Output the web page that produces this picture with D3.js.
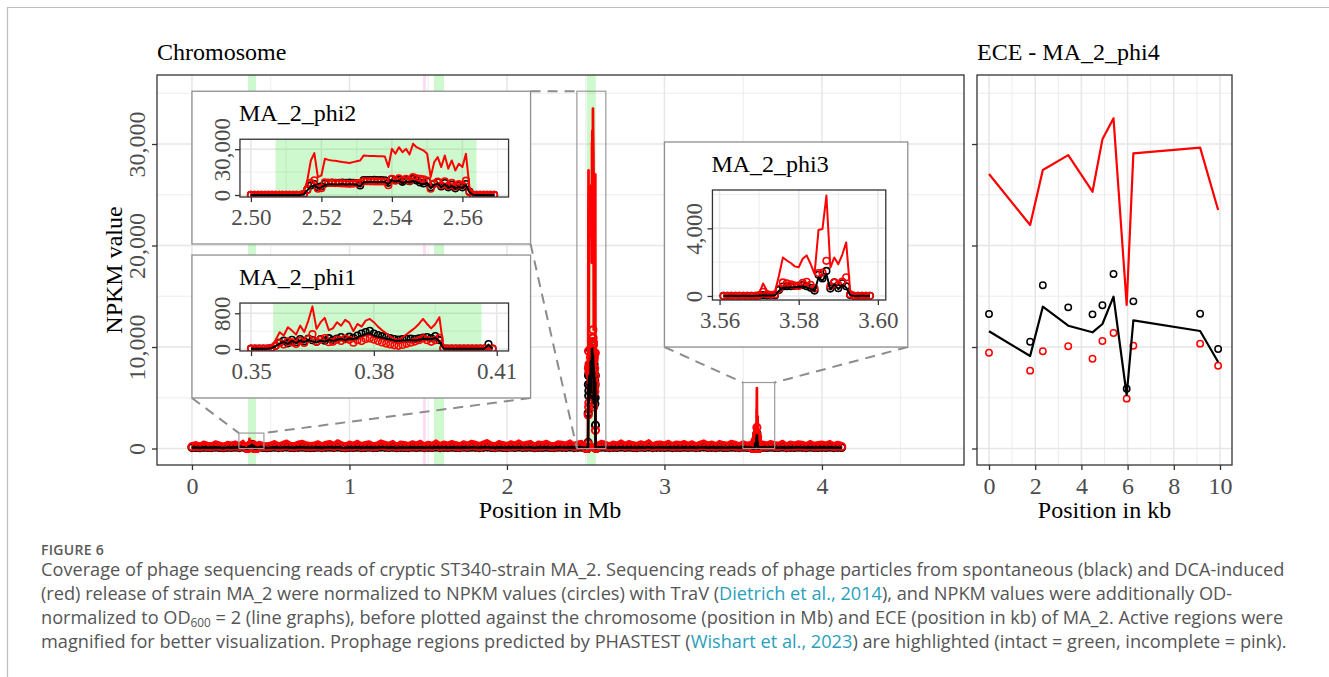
<!DOCTYPE html>
<html>
<head>
<meta charset="utf-8">
<script src="https://cdn.jsdelivr.net/npm/d3@7/dist/d3.min.js"></script>
<style>
  body { margin: 0; background: #fff; }
</style>
</head>
<body>
<svg id="fig" width="1329" height="677"></svg>
<script>
/*Chromosome backbone: 25 kb bins starting at 0 Mb, NPKM values are close to zero*/
var baseStart = 0, baseBin = 0.025;
var baseBlackNpkm = [90,110,85,120,100,95,130,105,80,115, 100,125,90,140,110,95,150,120,100,85,
    105,130,95,115,140,100,90,120,135,110, 95,105,125,90,115,130,100,145,110,85,
    120,100,135,95,110,125,90,105,140,115, 100,130,85,120,110,95,125,105,135,90,
    115,100,140,95,120,105,130,110,90,125, 100,135,115,95,120,145,105,90,130,110,
    95,125,105,140,100,115,130,85,120,110, 135,100,90,125,115,105,140,95,120,130,
    110,95,125,100,135,115,90,120,105,140, 100,130,110,95,125,105,145,90,115,120,
    105,135,95,120,110,130,100,125,90,115, 140,105,120,95,130,110,100,135,115,90,
    125,100,115,140,95,120,105,130,110,100, 135,90,120,105,125,115,95,130,100,110,
    120,105,130,95,115,100];
var baseRedNpkm = [180,210,160,230,190,170,240,200,150,220, 195,235,170,260,210,180,280,225,190,165,
    200,245,175,215,265,190,170,230,255,205, 180,200,240,170,220,250,190,275,210,160,
    230,190,260,180,210,240,170,200,270,220, 190,250,160,230,210,180,240,200,260,170,
    220,190,270,180,230,200,250,210,170,240, 190,260,220,180,230,280,200,170,250,210,
    180,240,200,270,190,220,250,160,230,210, 260,190,170,240,220,200,270,180,230,250,
    210,180,240,190,260,220,170,230,200,270, 190,250,210,180,240,200,280,170,220,230,
    200,260,180,230,210,250,190,240,170,220, 270,200,230,180,250,210,190,260,220,170,
    240,190,220,270,180,230,200,250,210,190, 260,170,230,200,240,220,180,250,190,210,
    230,200,250,180,220,190];
var baseBlackOd = [80,95,75,105,85,85,110,90,70,100, 85,110,80,120,95,85,130,105,85,75,
    90,115,85,100,120,85,80,105,115,95, 85,90,110,80,100,115,85,125,95,75,
    105,85,115,85,95,110,80,90,120,100, 85,115,75,105,95,85,110,90,115,80,
    100,85,120,85,105,90,115,95,80,110, 85,115,100,85,105,125,90,80,115,95,
    85,110,90,120,85,100,115,75,105,95, 115,85,80,110,100,90,120,85,105,115,
    95,85,110,85,115,100,80,105,90,120, 85,115,95,85,110,90,125,80,100,105,
    90,115,85,105,95,115,85,110,80,100, 120,90,105,85,115,95,85,115,100,80,
    110,85,100,120,85,105,90,115,95,85, 115,80,105,90,110,100,85,115,85,95,
    105,90,115,85,100,85];
var baseRedOd = [510,600,460,660,540,490,690,570,430,630, 560,670,490,740,600,510,800,640,540,470,
    570,700,500,610,760,540,490,660,730,590, 510,570,690,490,630,720,540,790,600,460,
    660,540,740,510,600,690,490,570,770,630, 540,720,460,660,600,510,690,570,740,490,
    630,540,770,510,660,570,720,600,490,690, 540,740,630,510,660,800,570,490,720,600,
    510,690,570,770,540,630,720,460,660,600, 740,540,490,690,630,570,770,510,660,720,
    600,510,690,540,740,630,490,660,570,770, 540,720,600,510,690,570,800,490,630,660,
    570,740,510,660,600,720,540,690,490,630, 770,570,660,510,720,600,540,740,630,490,
    690,540,630,770,510,660,570,720,600,540, 740,490,660,570,690,630,510,720,540,600,
    660,570,720,510,630,540];

/*Active regions: 1 kb bins*/
var regionBin = 0.001;
var phi1Start = 0.350;
var phi1RedOd = [15,10,20,12,18,60, 200,374,300,486,411,320,523,380,636,950,
    449,600,696,420,460,598,520,651,590,400, 560,500,636,673,600,500,420,350,280,230,
    202,260,330,400,471,560,673,560,460,560, 711,40, 12,10,15,10,12,14,10,12,16,12,10,12];
var phi1BlackOd = [5,4,6,5,4,20, 60,120,160,110,180,130,190,150,200,170,
    140,190,160,210,180,200,230,190,240,220, 260,300,330,352,300,270,250,230,210,190,
    185,190,195,200,190,205,220,230,215,250, 170,10, 5,4,6,5,4,6,5,5,6,5,95,4];
var phi1RedNpkm = [6,5,7,5,6,25, 70,130,100,170,145,110,180,135,220,330,
    160,210,245,150,160,210,180,230,205,140, 195,175,220,235,210,175,145,120,100,80,
    70,90,115,140,165,195,235,195,160,195, 250,15, 6,5,7,5,6,5,7,6,5,6,8,5];
var phi1BlackNpkm = [6,5,7,6,5,25, 70,140,185,125,205,150,220,170,230,195,
    160,220,185,240,205,230,265,220,275,250, 300,345,380,405,345,310,285,265,240,220,
    210,220,225,230,220,235,255,265,245,290, 195,12, 6,5,7,6,5,7,6,5,6,5,110,5];

var phi2Start = 2.500;
var phi2RedOd = [120,150,100,180,130,110,160,140,120,170,130,150,110,190,300,
    1500,9600,22600,27400,11700,12800,23700,23000,22600,22400,
    22000,21600,21300,20900,21500,22100,22600,25900,25700,25600,
    25500,25400,25300,25200,18300,30200,27000,31300,28000,30200,
    26500,33500,31300,30200,29100,27000,11700,21500,24800,18300,
    25900,17200,22600,16100,20400,18300,27000,5200,300,
    150,120,180,110,140,100];
var phi2BlackOd = [40,60,30,50,70,40,50,60,30,50,40,60,50,40,80,
    500,3000,5500,6300,4500,5000,6500,7000,7100,6900,
    7000,7200,6900,7100,7000,6800,5500,8500,8400,8600,
    8500,8400,8600,8500,7000,9800,8800,9500,7600,9000,
    8200,9200,8600,7400,7000,8000,4500,6500,7500,5000,
    7000,4500,6000,4000,5500,4500,6500,2000,100,
    50,40,60,30,50,40];
var phi2RedNpkm = [50,60,40,70,50,40,60,50,40,60,50,70,40,60,110,
    500,3300,7900,9600,4100,4500,8300,8000,7900,7800,
    7700,7550,7450,7300,7500,7700,7900,9000,9000,8950,
    8900,8900,8850,8800,6400,10500,9400,10900,9800,10500,
    9300,11700,10900,10500,10200,9400,4100,7500,8700,6400,
    9000,6000,7900,5600,7100,6400,9400,1800,100,
    50,40,60,50,40,50];
var phi2BlackNpkm = [30,40,20,50,30,40,30,50,20,40,30,40,30,20,60,
    600,3500,6300,7200,5200,5700,7500,8000,8100,7900,
    8000,8200,7900,8100,8000,7800,6300,9800,9700,9800,
    9900,9700,9800,9600,8000,10400,9800,10200,8600,9900,
    9000,10500,9500,8200,7600,8800,5000,7300,8300,5600,
    7800,5000,6700,4400,6200,5000,7200,2300,100,
    30,40,20,30,40,30];

var phi3Start = 3.561;
var phi3RedOd = [10,12,8,10,14,10,12,8,10,150,
    735,300,200,250,1200,2277,2100,1950,1750,1700,
    2200,2400,1900,1300,3900,3960,5940,1683,2277,1880,
    2436,3168,300, 12,10,8,12,10];
var phi3BlackOd = [5,4,6,5,4,6,5,4,6,20,
    40,30,25,30,300,490,500,500,520,540,
    560,500,420,280,1090,900,1290,380,700,400,
    650,500,50, 5,4,6,5,4];
var phi3RedNpkm = [6,5,7,5,6,5,7,6,5,50,
    250,100,70,90,420,800,740,680,610,590,
    770,840,660,450,1360,1380,2080,590,800,660,
    850,1100,100, 6,5,7,5,6];
var phi3BlackNpkm = [5,6,4,5,6,5,4,6,5,20,
    45,35,30,35,350,560,575,575,600,620,
    645,575,480,320,1250,1035,1480,440,800,460,
    750,575,60, 5,6,4,5,6];

/*ECE - MA_2_phi4 (position in kb)*/
var eceKb = [0, 1.78, 2.33, 3.43, 4.48, 4.91, 5.39, 5.96, 6.25, 9.14, 9.92];
var eceBlackNpkm = [13250, 10520, 16080, 13910, 13220, 14110, 17190, 5890, 14500, 13280, 9800];
var eceRedNpkm = [9440, 7670, 9580, 10070, 8850, 10590, 11380, 4910, 10130, 10330, 8160];
var eceBlackOd = [11550, 9110, 13970, 12100, 11450, 12270, 14960, 5270, 12630, 11580, 8520];
var eceRedOd = [27040, 22020, 27440, 28910, 25300, 30460, 32530, 14140, 29080, 29640, 23500];

/*Prophage regions predicted by PHASTEST (Mb)*/
var prophageStart = [0.3554, 1.467, 1.537, 2.507];
var prophageEnd = [0.4063, 1.486, 1.600, 2.564];
var prophageType = ["intact", "incomplete", "intact", "intact"];

/*Ticks*/
var mbTicks = [0, 1, 2, 3, 4], mbMinor = [0.5, 1.5, 2.5, 3.5, 4.5];
var npkmTicks = [0, 10000, 20000, 30000], npkmMinor = [5000, 15000, 25000, 35000];
var kbTicks = [0, 2, 4, 6, 8, 10], kbMinor = [1, 3, 5, 7, 9];

/*Insets: name, placement on the chromosome panel (Mb, NPKM), zoom box, axis domains and ticks*/
var insetNames = ["MA_2_phi2", "MA_2_phi1", "MA_2_phi3"];
var insetPlace = [[0, 2.15, 20150, 35200], [0, 2.15, 4980, 19060], [3.0, 4.545, 10000, 30200]];
var zoomBox = [[2.444, 2.628, 0, 35200], [0.298, 0.457, 0, 1520], [3.498, 3.70, 0, 6500]];
var insetXDomain = [[2.4969, 2.5731], [0.3473, 0.4129], [3.5582, 3.6020]];
var insetYDomain = [[-1300, 36500], [-46, 1029], [-239, 6269]];
var insetXTicks = [[2.50, 2.52, 2.54, 2.56], [0.35, 0.38, 0.41], [3.56, 3.58, 3.60]];
var insetXMinor = [[2.51, 2.53, 2.55, 2.57], [0.365, 0.395], [3.57, 3.59]];
var insetYTicks = [[0, 30000], [0, 800], [0, 4000]];
var insetYMinor = [[15000], [400], [2000, 6000]];

var serif = '"Liberation Serif", "Times New Roman", serif';
var svg = d3.select("#fig");

/*Function to turn a list of bins into rows*/
function buildRows(start, bin, bN, rN, bO, rO) {
    return bN.map(function(d, i) {
        return { pos: Math.round((start + i * bin) * 1e6) / 1e6, blackNpkm: d, redNpkm: rN[i], blackOd: bO[i], redOd: rO[i] };
    });
}

var phi1Rows = buildRows(phi1Start, regionBin, phi1BlackNpkm, phi1RedNpkm, phi1BlackOd, phi1RedOd);
var phi2Rows = buildRows(phi2Start, regionBin, phi2BlackNpkm, phi2RedNpkm, phi2BlackOd, phi2RedOd);
var phi3Rows = buildRows(phi3Start, regionBin, phi3BlackNpkm, phi3RedNpkm, phi3BlackOd, phi3RedOd);
var regionRows = [phi2Rows, phi1Rows, phi3Rows];

var baseRows = buildRows(baseStart, baseBin, baseBlackNpkm, baseRedNpkm, baseBlackOd, baseRedOd)
    .filter(function(d) {
        return !regionRows.some(function(r) { return d.pos >= r[0].pos - 0.0005 && d.pos <= r[r.length - 1].pos + 0.0005; });
    });
var chromRows = baseRows.concat(phi1Rows, phi2Rows, phi3Rows).sort(function(a, b) { return a.pos - b.pos; });

var eceRows = eceKb.map(function(d, i) {
    return { pos: d, blackNpkm: eceBlackNpkm[i], redNpkm: eceRedNpkm[i], blackOd: eceBlackOd[i], redOd: eceRedOd[i] };
});

var bands = prophageStart.map(function(d, i) { return { start: d, end: prophageEnd[i], type: prophageType[i] }; });

/*Function to draw one ggplot-like panel*/
function drawPanel(g, x, y, o) {
    var left = x.range()[0], right = x.range()[1], bottom = y.range()[0], top = y.range()[1];

    g.append("rect").attr("x", left).attr("y", top).attr("width", right - left).attr("height", bottom - top).attr("fill", "#fff");

    g.selectAll(null).data(o.xMinor).enter().append("line")
        .attr("x1", function(d) { return x(d) }).attr("x2", function(d) { return x(d) })
        .attr("y1", top).attr("y2", bottom).attr("stroke", "#ebebeb").attr("stroke-width", 0.9);
    g.selectAll(null).data(o.yMinor).enter().append("line")
        .attr("y1", function(d) { return y(d) }).attr("y2", function(d) { return y(d) })
        .attr("x1", left).attr("x2", right).attr("stroke", "#ebebeb").attr("stroke-width", 0.9);
    g.selectAll(null).data(o.xMajor).enter().append("line")
        .attr("x1", function(d) { return x(d) }).attr("x2", function(d) { return x(d) })
        .attr("y1", top).attr("y2", bottom).attr("stroke", "#e6e6e6").attr("stroke-width", 1.5);
    g.selectAll(null).data(o.yMajor).enter().append("line")
        .attr("y1", function(d) { return y(d) }).attr("y2", function(d) { return y(d) })
        .attr("x1", left).attr("x2", right).attr("stroke", "#e6e6e6").attr("stroke-width", 1.5);

    g.append("clipPath").attr("id", o.id).append("rect")
        .attr("x", left).attr("y", top).attr("width", right - left).attr("height", bottom - top);
    var body = g.append("g").attr("clip-path", "url(#" + o.id + ")");

    body.selectAll(null).data(o.bands).enter().append("rect")
        .attr("x", function(d) { return x(d.start) })
        .attr("width", function(d) { return Math.max(1.5, x(d.end) - x(d.start)) })
        .attr("y", top).attr("height", bottom - top)
        .attr("fill", function(d) { return d.type == "intact" ? "#33e033" : "#ff66cc" })
        .attr("fill-opacity", function(d) { return d.type == "intact" ? 0.24 : 0.22 });

    /*black circles first, red circles over them, then the OD-normalized lines*/
    body.selectAll(null).data(o.rows).enter().append("circle")
        .attr("cx", function(d) { return x(d.pos) }).attr("cy", function(d) { return y(d.blackNpkm) })
        .attr("r", o.r).attr("fill", "none").attr("stroke", "#000").attr("stroke-width", o.sw);
    body.selectAll(null).data(o.rows).enter().append("circle")
        .attr("cx", function(d) { return x(d.pos) }).attr("cy", function(d) { return y(d.redNpkm) })
        .attr("r", o.r).attr("fill", "none").attr("stroke", "#f00").attr("stroke-width", o.sw);

    body.append("path").datum(o.rows)
        .attr("d", d3.line().x(function(d) { return x(d.pos) }).y(function(d) { return y(d.redOd) }))
        .attr("fill", "none").attr("stroke", "#f00").attr("stroke-width", o.lw).attr("stroke-linejoin", "round");
    body.append("path").datum(o.rows)
        .attr("d", d3.line().x(function(d) { return x(d.pos) }).y(function(d) { return y(d.blackOd) }))
        .attr("fill", "none").attr("stroke", "#000").attr("stroke-width", o.lw).attr("stroke-linejoin", "round");

    g.append("rect").attr("x", left).attr("y", top).attr("width", right - left).attr("height", bottom - top)
        .attr("fill", "none").attr("stroke", "#333").attr("stroke-width", 1.3);

    var ax = g.append("g").attr("transform", "translate(0," + bottom + ")")
        .call(d3.axisBottom(x).tickValues(o.xMajor).tickFormat(o.xFmt).tickSize(5));
    ax.select(".domain").remove();
    ax.attr("font-family", serif).attr("font-size", o.fs);
    ax.selectAll("line").attr("stroke", "#333").attr("stroke-width", 1.3);
    ax.selectAll("text").attr("y", o.xLabelY).attr("dy", 0).attr("fill", "#4d4d4d");

    var ay = g.append("g").attr("transform", "translate(" + left + ",0)")
        .call(d3.axisLeft(y).tickValues(o.yMajor).tickFormat(o.yFmt).tickSize(5));
    ay.select(".domain").remove();
    ay.attr("font-family", serif).attr("font-size", o.fs);
    ay.selectAll("line").attr("stroke", "#333").attr("stroke-width", 1.3);
    if (o.yLabelGap) {
        ay.selectAll("text").attr("transform", "rotate(-90)").attr("x", 0).attr("y", -o.yLabelGap)
            .attr("dy", 0).attr("text-anchor", "middle").attr("fill", "#4d4d4d");
    } else {
        ay.selectAll("text").remove();
    }
}

/*Frame of the figure page*/
svg.append("path").attr("d", "M7.5,677V7.5H1329").attr("fill", "none").attr("stroke", "#bdbdbd").attr("stroke-width", 1.2);

/*Chromosome panel*/
var xMain = d3.scaleLinear().domain([-0.222, 4.902]).range([157, 964]);
var yMain = d3.scaleLinear().domain([-1625, 36800]).range([465, 75]);
var mainG = svg.append("g");
drawPanel(mainG, xMain, yMain, {
    id: "clipMain", rows: chromRows, bands: bands,
    xMajor: mbTicks, xMinor: mbMinor, yMajor: npkmTicks, yMinor: npkmMinor,
    xFmt: d3.format("d"), yFmt: d3.format(","), fs: 24, xLabelY: 29, yLabelGap: 12,
    r: 3.6, sw: 2, lw: 2.7
});

/*Zoom boxes and dashed connectors*/
mainG.selectAll(null).data(zoomBox).enter().append("rect")
    .attr("x", function(d) { return xMain(d[0]) }).attr("width", function(d) { return xMain(d[1]) - xMain(d[0]) })
    .attr("y", function(d) { return yMain(d[3]) }).attr("height", function(d) { return yMain(d[2]) - yMain(d[3]) })
    .attr("fill", "none").attr("stroke", "#9a9a9a").attr("stroke-width", 1.2);

var connectors = [
    [[insetPlace[0][1], insetPlace[0][3]], [zoomBox[0][0], zoomBox[0][3]]],
    [[insetPlace[0][1], insetPlace[0][2]], [zoomBox[0][0], zoomBox[0][2]]],
    [[insetPlace[1][0], insetPlace[1][2]], [zoomBox[1][0], zoomBox[1][3]]],
    [[insetPlace[1][1], insetPlace[1][2]], [zoomBox[1][1], zoomBox[1][3]]],
    [[insetPlace[2][0], insetPlace[2][2]], [zoomBox[2][0], zoomBox[2][3]]],
    [[insetPlace[2][1], insetPlace[2][2]], [zoomBox[2][1], zoomBox[2][3]]]
];
mainG.selectAll(null).data(connectors).enter().append("path")
    .attr("d", function(d) { return "M" + xMain(d[0][0]) + "," + yMain(d[0][1]) + "L" + xMain(d[1][0]) + "," + yMain(d[1][1]) })
    .attr("fill", "none").attr("stroke", "#8c8c8c").attr("stroke-width", 2).attr("stroke-dasharray", "10,7");

/*Insets*/
insetNames.forEach(function(name, k) {
    var p = insetPlace[k];
    var bx0 = xMain(p[0]), bx1 = xMain(p[1]), by0 = yMain(p[3]), by1 = yMain(p[2]);
    var ig = mainG.append("g");
    ig.append("rect").attr("x", bx0).attr("y", by0).attr("width", bx1 - bx0).attr("height", by1 - by0)
        .attr("fill", "#fff").attr("stroke", "#8f8f8f").attr("stroke-width", 1.3);
    ig.append("text").attr("x", bx0 + 47).attr("y", by0 + 30).attr("font-family", serif).attr("font-size", 24)
        .attr("fill", "#000").text(name);
    var ix = d3.scaleLinear().domain(insetXDomain[k]).range([bx0 + 48, bx1 - 22]);
    var iy = d3.scaleLinear().domain(insetYDomain[k]).range([by1 - 47, by0 + 48]);
    drawPanel(ig, ix, iy, {
        id: "clipInset" + k, rows: regionRows[k], bands: bands,
        xMajor: insetXTicks[k], xMinor: insetXMinor[k], yMajor: insetYTicks[k], yMinor: insetYMinor[k],
        xFmt: d3.format(".2f"), yFmt: d3.format(","), fs: 23, xLabelY: 28, yLabelGap: 10,
        r: 3.3, sw: 1.6, lw: 2
    });
});

/*ECE panel*/
var xEce = d3.scaleLinear().domain([-0.52, 10.52]).range([977, 1232]);
drawPanel(svg.append("g"), xEce, yMain, {
    id: "clipEce", rows: eceRows, bands: [],
    xMajor: kbTicks, xMinor: kbMinor, yMajor: npkmTicks, yMinor: npkmMinor,
    xFmt: d3.format("d"), yFmt: d3.format(","), fs: 24, xLabelY: 29, yLabelGap: 0,
    r: 3.2, sw: 1.5, lw: 2.2
});

/*Titles*/
var titles = svg.append("g").attr("font-family", serif).attr("fill", "#000").attr("font-size", 24);
titles.append("text").attr("x", 157).attr("y", 60).text("Chromosome");
titles.append("text").attr("x", 977).attr("y", 60).text("ECE - MA_2_phi4");
titles.append("text").attr("x", 550).attr("y", 518).attr("text-anchor", "middle").text("Position in Mb");
titles.append("text").attr("x", 1104.5).attr("y", 518).attr("text-anchor", "middle").text("Position in kb");
titles.append("text").attr("transform", "translate(122,270) rotate(-90)").attr("text-anchor", "middle").text("NPKM value");

/*Caption*/
var captionLines = [
    ["Coverage of phage sequencing reads of cryptic ST340-strain MA_2. Sequencing reads of phage particles from spontaneous (black) and DCA-induced"],
    ["(red) release of strain MA_2 were normalized to NPKM values (circles) with TraV (", { link: "Dietrich et al., 2014" }, "), and NPKM values were additionally OD-"],
    ["normalized to OD", { sub: "600" }, " = 2 (line graphs), before plotted against the chromosome (position in Mb) and ECE (position in kb) of MA_2. Active regions were"],
    ["magnified for better visualization. Prophage regions predicted by PHASTEST (", { link: "Wishart et al., 2023" }, ") are highlighted (intact = green, incomplete = pink)."]
];
var cap = svg.append("g").attr("font-family", '"Open Sans", "Noto Sans", sans-serif');
cap.append("text").attr("x", 41).attr("y", 555).attr("font-size", 14).attr("font-weight", 600)
    .attr("fill", "#5a5a5a").attr("letter-spacing", 0.3).text("FIGURE 6");
var capTexts = cap.append("g").attr("font-size", 16).attr("fill", "#555");
captionLines.forEach(function(parts, i) {
    var t = capTexts.append("text").attr("x", 41).attr("y", 576 + i * 24);
    var shifted = false;
    parts.forEach(function(p) {
        if (typeof p === "string") {
            t.append("tspan").attr("dy", shifted ? -3 : null).text(p);
            shifted = false;
        } else if (p.link) {
            t.append("tspan").attr("fill", "#2a9fbc").text(p.link);
        } else if (p.sub) {
            t.append("tspan").attr("font-size", "0.65em").attr("dy", 3).text(p.sub);
            shifted = true;
        }
    });
});
var firstLen = capTexts.select("text").node().getComputedTextLength();
capTexts.attr("font-size", 16 * 1244 / firstLen);
</script>
</body>
</html>
